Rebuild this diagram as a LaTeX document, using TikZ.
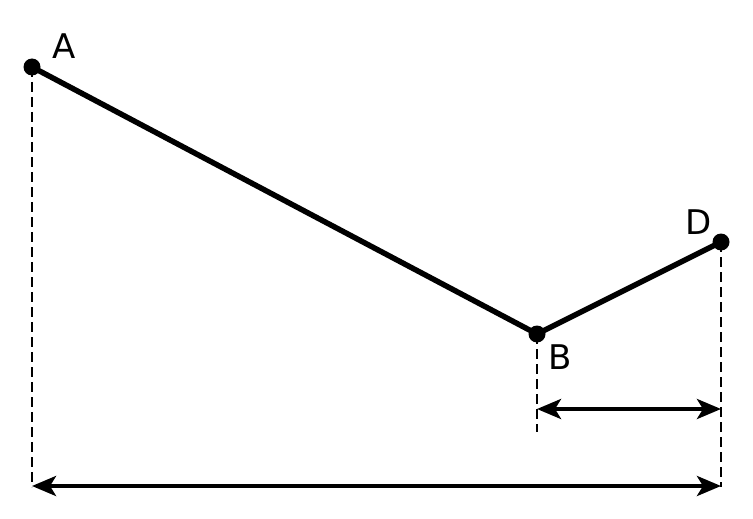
\documentclass[tikz,border=0pt]{standalone}
\usepackage{fontspec}
\setmainfont{DejaVu Sans}
\usetikzlibrary{arrows.meta,positioning}
\tikzset{dot/.style={circle, fill=black, inner sep=0pt, minimum size=17pt}, pt/.style={font=\fontsize{34}{40}\selectfont, inner sep=0pt}, seg/.style={line width=5.5pt}, guide/.style={line width=1.3pt, dash pattern=on 10pt off 5pt}, dim/.style={line width=4pt, >={Stealth[length=24pt,width=20pt,inset=6pt]}, <->}}

\begin{document}
\begin{tikzpicture}[x=1pt,y=-1pt]
    \useasboundingbox (0,0) rectangle (753,519);
    \node[dot] (A) at (32,67) {};
    \node[dot] (B) at (537,334) {};
    \node[dot] (D) at (721,242) {};
    \node[pt] (LA) at (64,46) {A};
    \node[pt] (LB) at (560,357) {B};
    \node[pt] (LD) at (699,222) {D};
    \coordinate (A0) at (32,487);
    \coordinate (B0) at (537,432);
    \coordinate (D0) at (721,487);
    \coordinate (B1) at (537,409);
    \coordinate (D1) at (721,409);
    \coordinate (A2) at (32,486);
    \coordinate (D2) at (721,486);
    \draw[seg] (A.center) -- (B.center) -- (D.center);
    \draw[guide] (A.center) -- (A0);
    \draw[guide] (B.center) -- (B0);
    \draw[guide] (D.center) -- (D0);
    \draw[dim] (B1) -- (D1);
    \draw[dim] (A2) -- (D2);
\end{tikzpicture}
\end{document}
